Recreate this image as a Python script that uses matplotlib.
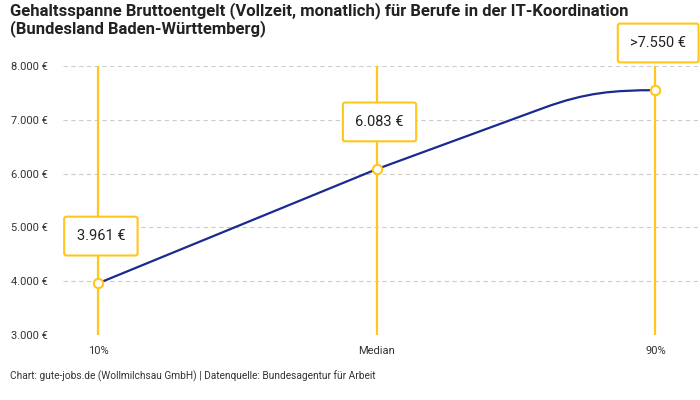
import matplotlib
matplotlib.use("Agg")
import matplotlib.pyplot as plt
from matplotlib.path import Path
from matplotlib.patches import PathPatch
from matplotlib.ticker import FuncFormatter

categories = ["10%", "Median", "90%"]
salaries = [3961, 6083, 7550]
box_labels = ["3.961 €", "6.083 €", ">7.550 €"]
y_ticks = [3000, 4000, 5000, 6000, 7000, 8000]

YELLOW = "#FFC61E"
BLUE = "#1B2A8E"
TEXT = "#333333"

plt.rcParams['font.family'] = ['Roboto', 'DejaVu Sans']

fig = plt.figure(figsize=(7, 4), dpi=100)
ax = fig.add_axes([0.09, 0.1625, 0.91, 0.6725])

xs = list(range(len(categories)))

# vertical yellow guides
for x in xs:
    ax.plot([x, x], [y_ticks[0], y_ticks[-1]], color=YELLOW, lw=1.6, zorder=2, solid_capstyle='butt')

# line: straight first part, then it keeps its slope for a while and bends flat into the last point
s1 = 1900
bend = 0.6
verts = [(xs[0], salaries[0]), (xs[1], salaries[1])]
codes = [Path.MOVETO, Path.LINETO]
bx, by = xs[1] + bend, salaries[1] + s1 * bend
verts.append((bx, by))
codes.append(Path.LINETO)
d = 0.15
verts += [(bx + d, by + s1 * d), (xs[2] - d, salaries[2]), (xs[2], salaries[2])]
codes += [Path.CURVE4] * 3
ax.add_patch(PathPatch(Path(verts, codes), facecolor='none', edgecolor=BLUE, lw=1.6, zorder=3,
                       joinstyle='round'))

ax.scatter(xs, salaries, s=45, facecolor='white', edgecolor=YELLOW, linewidth=1.5, zorder=4)

for x, y, lab in zip(xs, salaries, box_labels):
    ax.annotate(lab, (x, y), xytext=(2, 34), textcoords='offset points',
                ha='center', va='center', fontsize=10.5, color='#222222', zorder=5,
                bbox=dict(boxstyle='round,pad=0.85,rounding_size=0.15', fc='white', ec=YELLOW, lw=1.5))

ax.set_xlim(-0.126, 2.16)
ax.set_ylim(y_ticks[0], y_ticks[-1])
ax.set_yticks(y_ticks)
ax.yaxis.set_major_formatter(FuncFormatter(lambda v, p: f"{int(v):,} €".replace(",", ".")))
ax.set_xticks(xs)
ax.set_xticklabels(categories)
ax.grid(axis='y', color='#cccccc', linestyle=(0, (4, 3)), lw=0.8, zorder=1)
ax.set_axisbelow(True)
for s in ax.spines.values():
    s.set_visible(False)
ax.tick_params(axis='y', length=0, pad=11, labelsize=8, colors=TEXT)
ax.tick_params(axis='x', length=0, pad=8, labelsize=8, colors=TEXT)

fig.text(0.014, 0.995, "Gehaltsspanne Bruttoentgelt (Vollzeit, monatlich) für Berufe in der IT-Koordination\n(Bundesland Baden-Württemberg)",
         ha='left', va='top', fontsize=12, fontweight='bold', color='#222222', linespacing=1.1)
fig.text(0.014, 0.06, "Chart: gute-jobs.de (Wollmilchsau GmbH) | Datenquelle: Bundesagentur für Arbeit",
         ha='left', va='center', fontsize=7.3, color=TEXT)

fig.savefig("out.png", dpi=100)
